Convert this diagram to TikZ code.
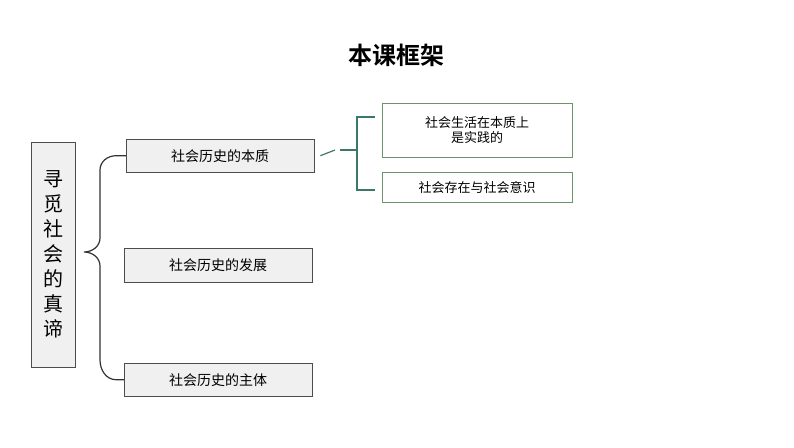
\documentclass[tikz,border=0pt]{standalone}
\usepackage{fontspec}
\newfontfamily\cjk{Noto Sans CJK SC}
\newfontfamily\cjkb{Noto Sans CJK SC Bold}
\begin{document}
\begin{tikzpicture}[x=1pt,y=-1pt,
  lbox/.style={draw=black!70,fill=black!5!red!2!white,fill=gray!12,inner sep=0pt,anchor=north west,font=\cjk\fontsize{14}{16}\selectfont},
  rbox/.style={draw=gray!60!green!40!gray,inner sep=0pt,anchor=north west,font=\cjk\fontsize{13}{15}\selectfont,align=center},
  brace/.style={line width=1.2pt,black!80},
  tl/.style={line width=1.2pt,color={rgb,255:red,60;green,120;blue,105}}]
\useasboundingbox (0,0) rectangle (794,447);
\node[font=\cjkb\fontsize{24}{28}\selectfont] (title) at (396,55) {本课框架};
\node[lbox,minimum width=44,minimum height=225,align=center,font=\cjk\fontsize{20}{25}\selectfont] (main) at (31,142) {寻\\觅\\社\\会\\的\\真\\谛};
\node[lbox,minimum width=188,minimum height=33] (b1) at (126,139) {社会历史的本质};
\node[lbox,minimum width=188,minimum height=34] (b2) at (124,248) {社会历史的发展};
\node[lbox,minimum width=188,minimum height=33] (b3) at (124,363) {社会历史的主体};
\node[rbox,minimum width=190,minimum height=54] (r1) at (382,103) {社会生活在本质上\\是实践的};
\node[rbox,minimum width=190,minimum height=30] (r2) at (382,172) {社会存在与社会意识};
\coordinate (bt) at (84,252);
\draw[brace] (b1.west) -- ++(-10,0) to[out=180,in=90] (100,170) -- (100,238) to[out=270,in=0] (bt)
  (bt) to[out=0,in=90] (100,266) -- (100,360) to[out=270,in=180] ([xshift=-8]b3.west) -- (b3.west);
\draw[tl] (b1.east) ++(6,0) -- (335,150);
\draw[tl] (375,117) -- (357,117) -- (357,190) -- (375,190);
\draw[tl] (340,150) -- (357,150);
\end{tikzpicture}
\end{document}
